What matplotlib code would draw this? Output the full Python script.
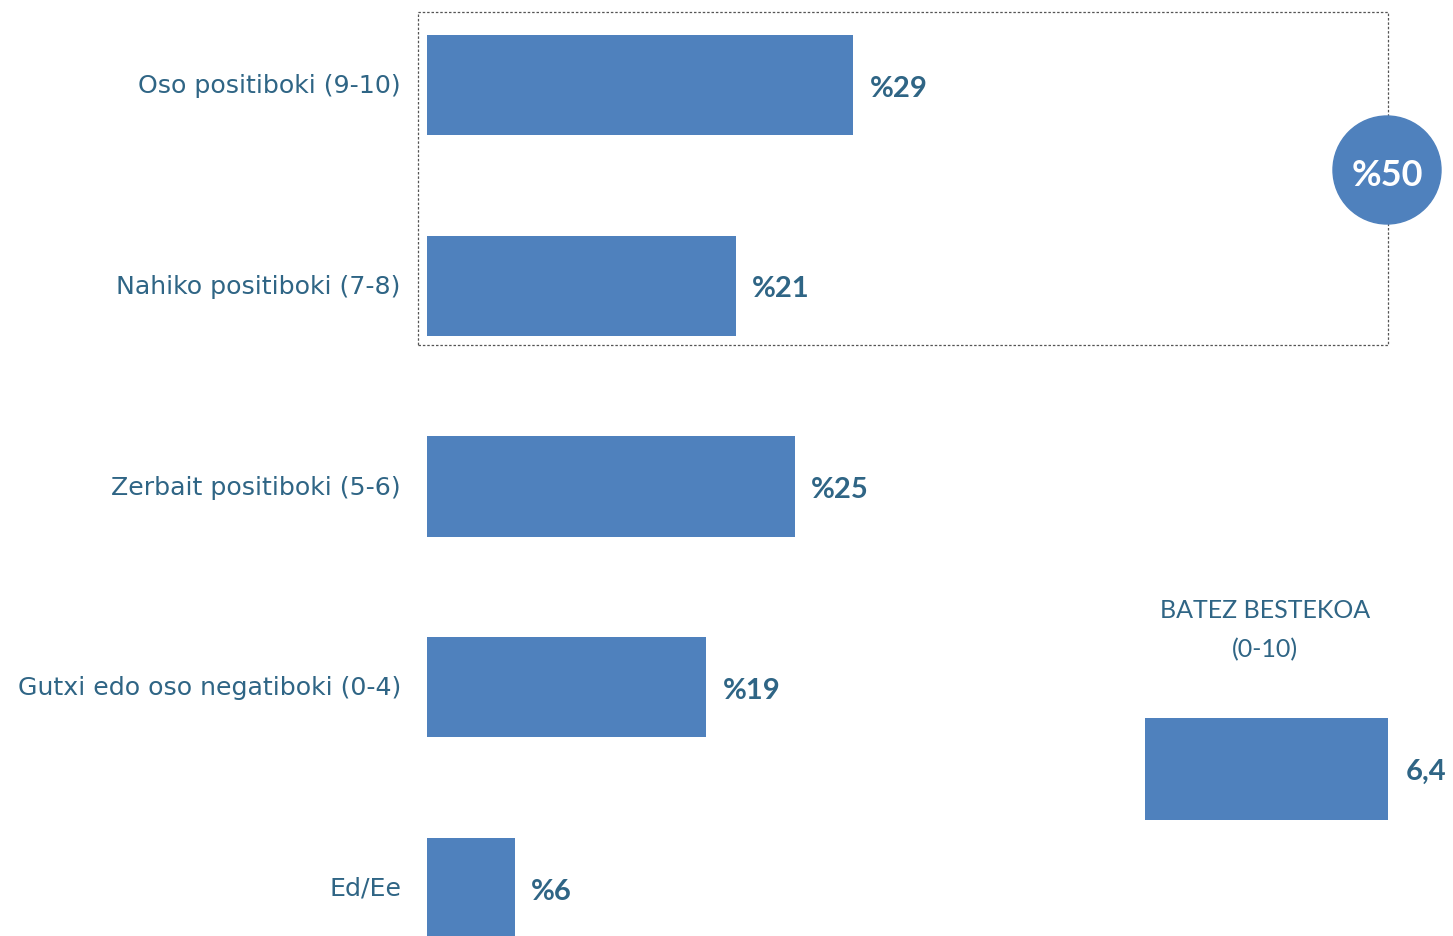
import matplotlib
matplotlib.use("Agg")
import matplotlib.pyplot as plt
from matplotlib.patches import Rectangle, Circle

categories = ["Oso positiboki (9-10)", "Nahiko positiboki (7-8)", "Zerbait positiboki (5-6)",
              "Gutxi edo oso negatiboki (0-4)", "Ed/Ee"]
values = [29, 21, 25, 19, 6]
value_labels = ["%29", "%21", "%25", "%19", "%6"]
total_positive = "%50"
mean_title = "BATEZ BESTEKOA\n(0-10)"
mean_value = [6.4]
mean_label = ["6,4"]

W, H = 1453, 936
bar_color = "#4F81BD"
text_color = "#2F6585"
plt.rcParams["font.family"] = ["Lato", "DejaVu Sans"]

fig = plt.figure(figsize=(W / 100, H / 100), dpi=100)

# main bars: zero at x=427px, ~14.7 px per percent, rows every ~201px
ax = fig.add_axes([427 / W, 0, (W - 427) / W, 1])
ax.barh(range(len(values)), values, height=0.5, color=bar_color)
ax.set_xlim(0, (W - 427) / 14.7)
ax.set_ylim(4 + (936 - 888) / 200.75, -85 / 200.75)
ax.axis("off")
for i, (v, lab) in enumerate(zip(values, value_labels)):
    ax.text(v + 1.1, i + 0.018, lab, va="center", ha="left", fontsize=21, fontweight="bold",
            color=text_color)
for i, cat in enumerate(categories):
    fig.text(401 / W, 1 - (86 + i * 200.75) / H, cat, ha="right", va="center",
             fontsize=18.2, color=text_color, family="DejaVu Sans")

# dotted box around the two positive rows
fig.add_artist(Rectangle((418 / W, 1 - 345 / H), (1388 - 418) / W, (345 - 12) / H,
                         transform=fig.transFigure, fill=False, edgecolor="#555555",
                         linestyle=(0, (2, 1.5)), linewidth=0.9))
fig.add_artist(Circle((13.87, (H - 170) / 100), 0.54, transform=fig.dpi_scale_trans,
                      color=bar_color, zorder=5))
fig.text(1387 / W, 1 - 175 / H, total_positive, ha="center", va="center", fontsize=26,
         fontweight="bold", color="white", zorder=6)

# mean bar
ax2 = fig.add_axes([1145 / W, 1 - 870 / H, (W - 1145) / W, 200 / H])
ax2.barh([0], mean_value, height=102 / 200, color=bar_color)
ax2.set_xlim(0, (W - 1145) / 38)
ax2.set_ylim(-(870 - 769) / 200, (769 - 670) / 200)
ax2.axis("off")
ax2.text(mean_value[0] + 0.45, -0.015, mean_label[0], va="center", ha="left", fontsize=21,
         fontweight="bold", color=text_color)
fig.text(1265 / W, 1 - 611 / H, mean_title.split("\n")[0], ha="center", va="center",
         fontsize=18, color=text_color)
fig.text(1265 / W, 1 - 650 / H, mean_title.split("\n")[1], ha="center", va="center",
         fontsize=18, color=text_color)

fig.savefig("out.png", dpi=100)
